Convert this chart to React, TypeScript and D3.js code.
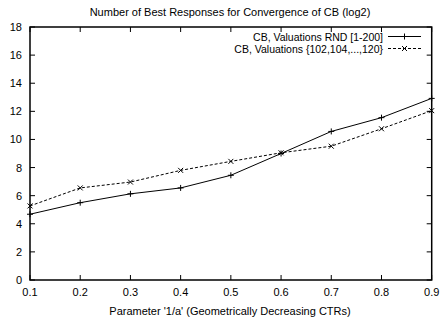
import * as d3 from "d3";

const width = 443;
const height = 323;

// parameter 1/a
const params = [0.1, 0.2, 0.3, 0.4, 0.5, 0.6, 0.7, 0.8, 0.9];
// log2 of best responses
const rndValues = [4.68, 5.5, 6.13, 6.55, 7.45, 9.0, 10.57, 11.55, 12.92];
const seqValues = [5.27, 6.55, 6.97, 7.8, 8.44, 9.05, 9.52, 10.76, 12.05];

const xTicks = [0.1, 0.2, 0.3, 0.4, 0.5, 0.6, 0.7, 0.8, 0.9];
const yTicks = [0, 2, 4, 6, 8, 10, 12, 14, 16, 18];

const title = "Number of Best Responses for Convergence of CB (log2)";
const xLabel = "Parameter '1/a' (Geometrically Decreasing CTRs)";
const seriesNames = ["CB, Valuations RND [1-200]", "CB, Valuations {102,104,...,120}"];

const font = "Liberation Sans, Arial, Helvetica, sans-serif";

export default function App() {
    const x = d3.scaleLinear().domain([0.1, 0.9]).range([30, 431.7]);
    const y = d3.scaleLinear().domain([0, 18]).range([280, 27]);
    const [x0, x1] = x.range();
    const [y0, y1] = y.range();
    const tick = 5;

    const line = d3.line<number>()
        .x((_, i) => x(params[i]))
        .y((d) => y(d));

    const plus = (cx: number, cy: number, s = 3) =>
        `M${cx - s},${cy}H${cx + s}M${cx},${cy - s}V${cy + s}`;
    const cross = (cx: number, cy: number, s = 2.5) =>
        `M${cx - s},${cy - s}L${cx + s},${cy + s}M${cx - s},${cy + s}L${cx + s},${cy - s}`;

    const legendX = 383;
    const legendRows = [36.5, 48.5];

    return (
        <svg width={width} height={height} style={{ position: "absolute", left: 0, top: 0, background: "#fff" }}
            fontFamily={font} fontSize={11}>
            <rect width={width} height={height} fill="#fff" />
            <text x={230} y={12} textAnchor="middle" dominantBaseline="central">{title}</text>

            {/* ticks, mirrored on all sides */}
            <g stroke="#000" strokeWidth={1}>
                {yTicks.map((t) => (
                    <g key={"y" + t}>
                        <line x1={x0} x2={x0 + tick} y1={y(t)} y2={y(t)} />
                        <line x1={x1} x2={x1 - tick} y1={y(t)} y2={y(t)} />
                    </g>
                ))}
                {xTicks.map((t) => (
                    <g key={"x" + t}>
                        <line x1={x(t)} x2={x(t)} y1={y0} y2={y0 - tick} />
                        <line x1={x(t)} x2={x(t)} y1={y1} y2={y1 + tick} />
                    </g>
                ))}
            </g>
            {yTicks.map((t) => (
                <text key={"yl" + t} x={22} y={y(t)} textAnchor="end" dominantBaseline="central">{t}</text>
            ))}
            {xTicks.map((t) => (
                <text key={"xl" + t} x={x(t)} y={292} textAnchor="middle" dominantBaseline="central">{t}</text>
            ))}
            <text x={230} y={311} textAnchor="middle" dominantBaseline="central">{xLabel}</text>

            {/* series */}
            <path d={line(rndValues) ?? ""} fill="none" stroke="#000" strokeWidth={1} />
            <path d={line(seqValues) ?? ""} fill="none" stroke="#000" strokeWidth={1} strokeDasharray="3,2" />
            <path d={rndValues.map((v, i) => plus(x(params[i]), y(v))).join("")} stroke="#000" fill="none" />
            <path d={seqValues.map((v, i) => cross(x(params[i]), y(v))).join("")} stroke="#000" fill="none" />

            {/* legend */}
            {seriesNames.map((n, i) => (
                <text key={n} x={legendX} y={legendRows[i]} textAnchor="end" dominantBaseline="central"
                    fontSize={10.5}>{n}</text>
            ))}
            <line x1={388} x2={421} y1={legendRows[0]} y2={legendRows[0]} stroke="#000" />
            <path d={plus(404.5, legendRows[0])} stroke="#000" />
            <line x1={388} x2={421} y1={legendRows[1]} y2={legendRows[1]} stroke="#000" strokeDasharray="3,2" />
            <path d={cross(404.5, legendRows[1])} stroke="#000" />

            <rect x={x0} y={y1} width={x1 - x0} height={y0 - y1} fill="none" stroke="#000" strokeWidth={1.5} />
        </svg>
    );
}
